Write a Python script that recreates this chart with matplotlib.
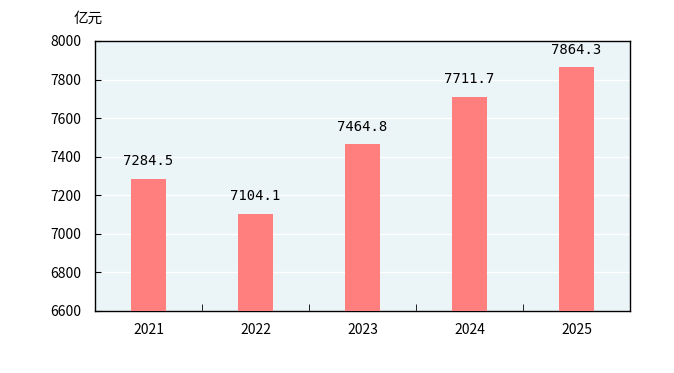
import numpy as np
import matplotlib
matplotlib.use('Agg')
import matplotlib.pyplot as plt

plt.rcParams['font.family'] = ['Noto Sans CJK SC', 'DejaVu Sans']

years = ['2021', '2022', '2023', '2024', '2025']
values = [7284.5, 7104.1, 7464.8, 7711.7, 7864.3]
yticks = [6600, 6800, 7000, 7200, 7400, 7600, 7800, 8000]

fig = plt.figure(figsize=(6.74, 3.73), dpi=100)
ax = fig.add_axes([95 / 674, 1 - 311 / 373, 535 / 674, 270 / 373])
ax.set_facecolor('#ebf5f8')

x = np.arange(len(years))
ax.bar(x, values, width=0.32, color='#ff7f7f', zorder=3)
for xi, v in zip(x, values):
    ax.text(xi, v + 55, '%.1f' % v, ha='center', va='bottom', fontsize=10,
            family='DejaVu Sans Mono', zorder=4)

ax.set_xlim(-0.5, len(years) - 0.5)
ax.set_ylim(6600, 8000)
ax.set_yticks(yticks)
ax.set_yticklabels([str(t) for t in yticks], fontsize=10)
ax.yaxis.grid(True, color='white', linewidth=1, zorder=1)
ax.tick_params(axis='y', direction='in', length=4, pad=10)

ax.set_xticks(x)
ax.set_xticklabels(years, fontsize=10)
ax.tick_params(axis='x', length=0, pad=9)
ax.set_xticks(np.arange(0.5, len(years) - 1, 1), minor=True)
ax.tick_params(axis='x', which='minor', direction='in', length=5)

for s in ax.spines.values():
    s.set_linewidth(1.0)

fig.text(74 / 674, 1 - 19 / 373, '亿元', ha='left', va='center', fontsize=10.5)

fig.savefig('out.png', dpi=100)
